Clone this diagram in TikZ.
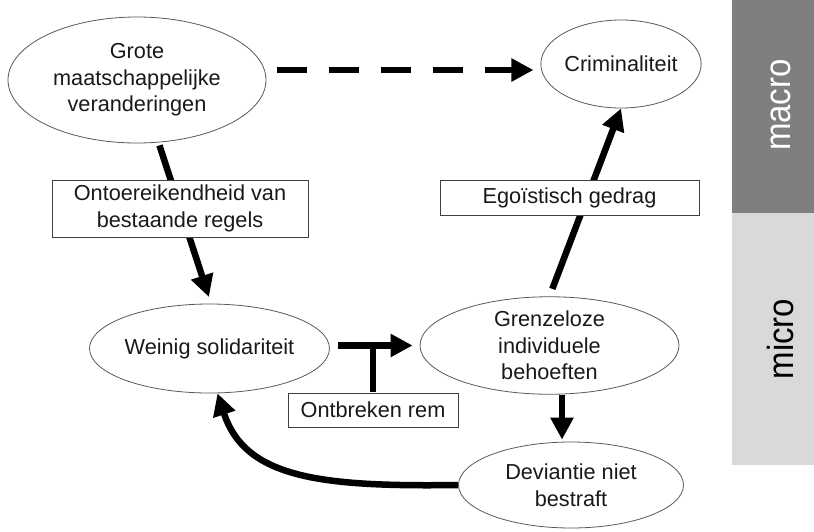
\documentclass[tikz,border=0pt]{standalone}
\usepackage{fontspec}
\setmainfont{Liberation Sans}
\usetikzlibrary{shapes.geometric,arrows.meta}
\definecolor{macrogray}{HTML}{7F7F7F}
\definecolor{microgray}{HTML}{D9D9D9}
\definecolor{bordergray}{HTML}{404040}
\definecolor{ellgray}{HTML}{595959}
\begin{document}
\begin{tikzpicture}[x=1pt,y=-1pt,
  every node/.style={font=\fontsize{21.7}{26.5}\selectfont, text=black!90},
  ell/.style={ellipse, draw=ellgray, line width=0.8pt, fill=white, inner sep=0pt, align=center},
  lbl/.style={rectangle, draw=bordergray, line width=0.9pt, fill=white, inner sep=0pt, align=center},
  conn/.style={line width=6.5pt, -{Triangle[length=22pt,width=22pt]}},
  side/.style={rotate=90, inner sep=0pt, font=\fontsize{33}{33}\selectfont}
]
\useasboundingbox (0,0) rectangle (814,531);
% side bars
\fill[macrogray] (732,0) rectangle (814,213);
\fill[microgray] (732,213) rectangle (814,465);
\node[side, text=white] (macro) at (780.5,105) {\scalebox{1}[1.1]{macro}};
\node[side, text=black] (micro) at (780.5,339) {\scalebox{1}[1.1]{micro}};
% ellipses
\node[ell, minimum width=258pt, minimum height=126pt] (grote) at (137,80) {Grote\\maatschappelijke\\veranderingen};
\node[ell, minimum width=155pt, minimum height=88pt] (crim) at (621,64) {Criminaliteit};
\node[ell, minimum width=225pt, minimum height=89pt] (weinig) at (209.5,348.5) {Weinig solidariteit};
\node[ell, minimum width=259pt, minimum height=95pt] (gren) at (549.5,345.5) {Grenzeloze\\individuele\\behoeften};
\node[ell, minimum width=225pt, minimum height=86pt] (dev) at (571,485) {Deviantie niet\\bestraft};
% connectors
\draw[conn, dash pattern=on 30pt off 22pt, dash phase=48pt]
  ([xshift=7pt,yshift=10pt]grote.east) -- ([xshift=-7pt,yshift=-6pt]crim.west);
\draw[conn, shorten <=3pt, shorten >=7pt] (grote.-71) -- (weinig.88);
\draw[conn, shorten <=8pt] (gren.north) -- (crim.south);
\draw[conn, shorten <=8pt, shorten >=7pt] (weinig.east |- gren.west) -- (gren.west);
\draw[conn, shorten >=2pt] ([xshift=12.5pt]gren.south) -- ([xshift=-9pt]dev.north);
\draw[conn] (dev.west) .. controls (320,487) and (245,478) .. ([xshift=8pt]weinig.south);
% label boxes
\node[lbl, minimum width=256pt, minimum height=57pt] (ontoer) at (180,208.5) {Ontoereikendheid van\\bestaande regels};
\node[lbl, minimum width=259pt, minimum height=35pt] (ego) at (569.5,197.5) {Egoïstisch gedrag};
\node[lbl, minimum width=170pt, minimum height=34pt] (rem) at (373,410) {Ontbreken rem};
\draw[line width=6.5pt] ([yshift=0.5pt]rem.north) -- ([yshift=-3.25pt]rem.north |- gren.west);
\end{tikzpicture}
\end{document}
